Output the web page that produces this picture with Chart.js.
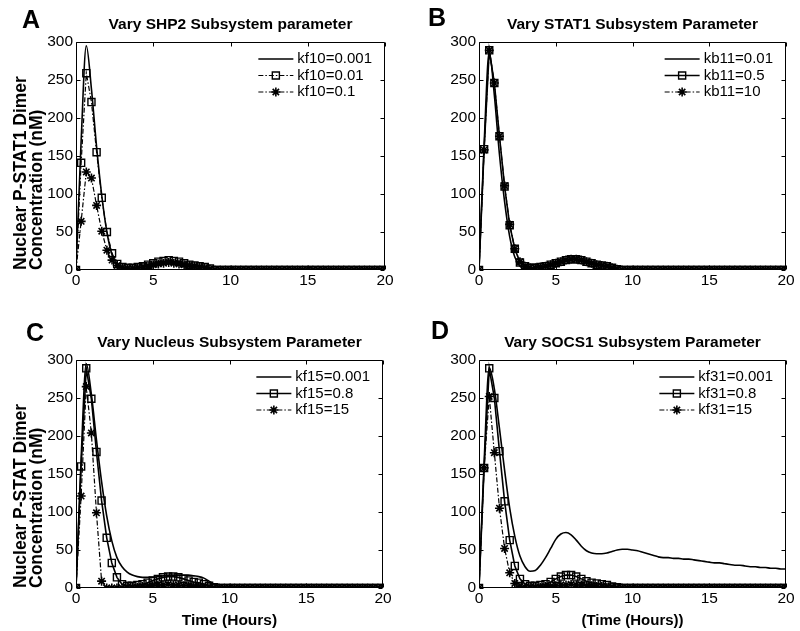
<!DOCTYPE html>
<html>
<head>
<meta charset="utf-8">
<script src="https://cdn.jsdelivr.net/npm/chart.js@4"></script>
<style>
  body { margin: 0; background: #fff; }
  #wrap { position: relative; width: 800px; height: 631px; }
  canvas { position: absolute; }
</style>
</head>
<body>
<div id="wrap">
  <canvas id="chartA" width="400" height="300" style="left:0;top:0"></canvas>
  <canvas id="chartB" width="400" height="300" style="left:400px;top:0"></canvas>
  <canvas id="chartC" width="400" height="331" style="left:0;top:300px"></canvas>
  <canvas id="chartD" width="400" height="331" style="left:400px;top:300px"></canvas>
</div>
<script>
// time grid (hours)
const times = [
  0, 0.333, 0.667, 1, 1.333, 1.667, 2, 2.333, 2.667, 3,
  3.333, 3.667, 4, 4.333, 4.667, 5, 5.333, 5.667, 6, 6.333,
  6.667, 7, 7.333, 7.667, 8, 8.333, 8.667, 9, 9.333, 9.667,
  10, 10.333, 10.667, 11, 11.333, 11.667, 12, 12.333, 12.667, 13,
  13.333, 13.667, 14, 14.333, 14.667, 15, 15.333, 15.667, 16, 16.333,
  16.667, 17, 17.333, 17.667, 18, 18.333, 18.667, 19, 19.333, 19.667,
  20
];
const xTicks = [0, 5, 10, 15, 20];
const yTicks = [0, 50, 100, 150, 200, 250, 300];

// A: SHP2
const labelsA = ['kf10=0.001', 'kf10=0.01', 'kf10=0.1'];
const kf10_0001 = [
  0, 170, 295, 238, 162, 98, 50, 20, 7, 3,
  2, 2, 3, 4, 6, 8, 10, 11, 12, 11,
  10, 8, 7, 6, 5, 3, 1, 0, 0, 0,
  0, 0, 0, 0, 0, 0, 0, 0, 0, 0,
  0, 0, 0, 0, 0, 0, 0, 0, 0, 0,
  0, 0, 0, 0, 0, 0, 0, 0, 0, 0,
  0
];
const kf10_001 = [
  0, 141, 259, 221, 155, 95, 50, 22, 8, 4,
  3, 3, 4, 5, 7, 9, 11, 12, 13, 12,
  11, 9, 7, 6, 5, 4, 2, 0, 0, 0,
  0, 0, 0, 0, 0, 0, 0, 0, 0, 0,
  0, 0, 0, 0, 0, 0, 0, 0, 0, 0,
  0, 0, 0, 0, 0, 0, 0, 0, 0, 0,
  0
];
const kf10_01 = [
  0, 64, 129, 121, 85, 51, 26, 13, 6, 3,
  2, 2, 3, 4, 5, 7, 8, 9, 10, 9,
  8, 7, 6, 5, 4, 3, 1, 0, 0, 0,
  0, 0, 0, 0, 0, 0, 0, 0, 0, 0,
  0, 0, 0, 0, 0, 0, 0, 0, 0, 0,
  0, 0, 0, 0, 0, 0, 0, 0, 0, 0,
  0
];

// B: STAT1
const labelsB = ['kb11=0.01', 'kb11=0.5', 'kb11=10'];
const kb11_001 = [
  0, 165, 287, 230, 152, 90, 44, 17, 5, 2,
  2, 3, 4, 5, 7, 9, 11, 13, 14, 14,
  13, 11, 9, 7, 6, 5, 3, 1, 0, 0,
  0, 0, 0, 0, 0, 0, 0, 0, 0, 0,
  0, 0, 0, 0, 0, 0, 0, 0, 0, 0,
  0, 0, 0, 0, 0, 0, 0, 0, 0, 0,
  0
];
const kb11_05 = [
  0, 159, 289, 246, 176, 110, 59, 28, 10, 5,
  3, 3, 4, 5, 7, 9, 11, 13, 14, 14,
  13, 11, 9, 7, 6, 5, 3, 1, 0, 0,
  0, 0, 0, 0, 0, 0, 0, 0, 0, 0,
  0, 0, 0, 0, 0, 0, 0, 0, 0, 0,
  0, 0, 0, 0, 0, 0, 0, 0, 0, 0,
  0
];
const kb11_10 = [
  0, 158, 289, 246, 176, 111, 60, 28, 11, 5,
  3, 3, 4, 5, 7, 9, 11, 13, 14, 14,
  13, 11, 9, 7, 6, 5, 3, 1, 0, 0,
  0, 0, 0, 0, 0, 0, 0, 0, 0, 0,
  0, 0, 0, 0, 0, 0, 0, 0, 0, 0,
  0, 0, 0, 0, 0, 0, 0, 0, 0, 0,
  0
];

// C: Nucleus
const labelsC = ['kf15=0.001', 'kf15=0.8', 'kf15=15'];
const kf15_0001 = [
  0, 170, 295, 255, 195, 140, 95, 62, 40, 28,
  21, 17, 15, 14, 14, 14, 15, 16, 17, 17,
  17, 17, 17, 16, 15, 13, 9, 5, 2, 0,
  0, 0, 0, 0, 0, 0, 0, 0, 0, 0,
  0, 0, 0, 0, 0, 0, 0, 0, 0, 0,
  0, 0, 0, 0, 0, 0, 0, 0, 0, 0,
  0
];
const kf15_08 = [
  0, 160, 289, 249, 179, 115, 66, 33, 14, 5,
  3, 3, 4, 5, 7, 10, 12, 14, 15, 15,
  14, 12, 10, 8, 7, 5, 3, 1, 0, 0,
  0, 0, 0, 0, 0, 0, 0, 0, 0, 0,
  0, 0, 0, 0, 0, 0, 0, 0, 0, 0,
  0, 0, 0, 0, 0, 0, 0, 0, 0, 0,
  0
];
const kf15_15 = [
  0, 121, 265, 204, 99, 9, 0, 0, 0, 0,
  1, 1, 1, 2, 2, 3, 4, 4, 5, 4,
  4, 3, 3, 2, 2, 1, 1, 0, 0, 0,
  0, 0, 0, 0, 0, 0, 0, 0, 0, 0,
  0, 0, 0, 0, 0, 0, 0, 0, 0, 0,
  0, 0, 0, 0, 0, 0, 0, 0, 0, 0,
  0
];

// D: SOCS1
const labelsD = ['kf31=0.001', 'kf31=0.8', 'kf31=15'];
const kf31_0001 = [
  0, 165, 290, 262, 210, 155, 105, 68, 42, 28,
  22, 23, 30, 40, 52, 64, 71, 73, 70, 63,
  55, 49, 46, 45, 45, 46, 48, 50, 51, 51,
  50, 49, 47, 45, 43, 41, 40, 40, 39, 39,
  38, 38, 37, 36, 35, 34, 33, 33, 32, 31,
  30, 30, 29, 28, 28, 27, 27, 26, 26, 25,
  25
];
const kf31_08 = [
  0, 158, 289, 250, 180, 114, 63, 29, 12, 5,
  3, 3, 4, 5, 8, 12, 15, 17, 17, 15,
  12, 9, 7, 6, 5, 4, 2, 1, 0, 0,
  0, 0, 0, 0, 0, 0, 0, 0, 0, 0,
  0, 0, 0, 0, 0, 0, 0, 0, 0, 0,
  0, 0, 0, 0, 0, 0, 0, 0, 0, 0,
  0
];
const kf31_15 = [
  0, 158, 252, 178, 105, 52, 20, 6, 2, 1,
  1, 1, 1, 2, 2, 3, 4, 4, 5, 4,
  4, 3, 3, 2, 2, 1, 1, 0, 0, 0,
  0, 0, 0, 0, 0, 0, 0, 0, 0, 0,
  0, 0, 0, 0, 0, 0, 0, 0, 0, 0,
  0, 0, 0, 0, 0, 0, 0, 0, 0, 0,
  0
];

const FONT = "'Liberation Sans', Arial, Helvetica, sans-serif";
Chart.defaults.font.family = FONT;
Chart.defaults.color = '#000';

const dashDot = [5, 2, 1.5, 2];

const toPoints = vals => vals.map((v, i) => ({x: times[i], y: v}));

// MATLAB-like box, inward ticks, title, panel letter and legend
const matlabFrame = {
  id: 'matlabFrame',
  afterDraw(chart, args, opts) {
    const {ctx, chartArea: a, scales} = chart;
    const L = Math.round(a.left) + 0.5, R = Math.round(a.right) - 0.5;
    const T = Math.round(a.top) + 0.5, B = Math.round(a.bottom) - 0.5;
    ctx.save();
    ctx.strokeStyle = '#000';
    ctx.lineWidth = 1;
    ctx.setLineDash([]);
    ctx.beginPath();
    ctx.rect(L, T, R - L, B - T);
    xTicks.forEach(v => {
      const px = Math.round(scales.x.getPixelForValue(v)) + 0.5;
      ctx.moveTo(px, B); ctx.lineTo(px, B - 4);
      ctx.moveTo(px, T); ctx.lineTo(px, T + 4);
    });
    yTicks.forEach(v => {
      const py = Math.round(scales.y.getPixelForValue(v)) + 0.5;
      ctx.moveTo(L, py); ctx.lineTo(L + 4, py);
      ctx.moveTo(R, py); ctx.lineTo(R - 4, py);
    });
    ctx.stroke();

    // title
    ctx.fillStyle = '#000';
    ctx.font = 'bold 15.5px ' + FONT;
    ctx.textAlign = 'center';
    ctx.textBaseline = 'middle';
    ctx.fillText(opts.title, (a.left + a.right) / 2, a.top - 17.5);

    // panel letter
    ctx.font = 'bold 25px ' + FONT;
    ctx.textAlign = 'left';
    ctx.textBaseline = 'alphabetic';
    ctx.fillText(opts.letter, opts.letterX, opts.letterY);

    // legend
    ctx.font = '15px ' + FONT;
    ctx.textBaseline = 'middle';
    const ds = chart.data.datasets;
    const maxW = Math.max(...ds.map(d => ctx.measureText(d.label).width));
    const textX = a.right - 13 - maxW;
    ds.forEach((d, k) => {
      const y = a.top + 17 + k * 16.5;
      ctx.save();
      ctx.lineWidth = d.borderWidth;
      ctx.setLineDash(d.borderDash || []);
      ctx.beginPath();
      ctx.moveTo(textX - 39, y);
      ctx.lineTo(textX - 4, y);
      ctx.stroke();
      ctx.setLineDash([]);
      if (d.pointRadius > 0) {
        ctx.lineWidth = d.pointBorderWidth;
        ctx.fillStyle = 'rgba(0,0,0,0)';
        Chart.helpers.drawPoint(ctx, {pointStyle: d.pointStyle, radius: d.pointRadius, borderWidth: d.pointBorderWidth, rotation: 0}, textX - 21.5, y);
      }
      ctx.restore();
      ctx.fillText(d.label, textX, y);
    });
    ctx.restore();
  }
};

function makeChart(id, cfg) {
  const datasets = [
    {
      label: cfg.labels[0], data: toPoints(cfg.series[0]),
      borderColor: '#000', borderWidth: 1.6, borderDash: [],
      pointRadius: 0, cubicInterpolationMode: 'monotone', order: 3
    },
    {
      label: cfg.labels[1], data: toPoints(cfg.series[1]),
      borderColor: '#000', borderWidth: cfg.squareDash.length ? 1.2 : 1.6, borderDash: cfg.squareDash,
      pointStyle: 'rect', pointRadius: 5, pointBorderWidth: 1.4,
      pointBorderColor: '#000', pointBackgroundColor: 'rgba(0,0,0,0)', order: 2
    },
    {
      label: cfg.labels[2], data: toPoints(cfg.series[2]),
      borderColor: '#000', borderWidth: 1.2, borderDash: dashDot,
      pointStyle: 'star', pointRadius: 4.5, pointBorderWidth: 1.6,
      pointBorderColor: '#000', pointBackgroundColor: 'rgba(0,0,0,0)', order: 1
    }
  ];

  new Chart(document.getElementById(id), {
    type: 'line',
    data: {datasets: datasets},
    plugins: [matlabFrame],
    options: {
      responsive: false,
      animation: false,
      events: [],
      layout: {padding: {left: 0, right: cfg.padRight, top: cfg.padTop, bottom: 0}},
      scales: {
        x: {
          type: 'linear', min: 0, max: 20,
          afterFit: s => { s.height = cfg.xHeight; },
          grid: {display: false, drawTicks: false},
          border: {display: false},
          ticks: {stepSize: 5, padding: 1, font: {size: 15.5}, maxRotation: 0},
          title: {
            display: !!cfg.xTitle, text: cfg.xTitle || '',
            font: {size: cfg.xTitleSize || 15.5, weight: 'bold'},
            padding: {top: 0, bottom: 1}
          }
        },
        y: {
          min: 0, max: 300,
          afterFit: s => { s.width = cfg.yWidth; },
          grid: {display: false, drawTicks: false},
          border: {display: false},
          ticks: {stepSize: 50, padding: 3, font: {size: 15.5}},
          title: {
            display: !!cfg.yTitle, text: cfg.yTitle || '',
            align: 'start',
            font: {size: 17.5, weight: 'bold', lineHeight: '16px'},
            padding: {top: 13, bottom: 0}
          }
        }
      },
      plugins: {
        legend: {display: false},
        tooltip: {enabled: false},
        matlabFrame: {title: cfg.title, letter: cfg.letter, letterX: cfg.letterX, letterY: cfg.letterY}
      }
    }
  });
}

makeChart('chartA', {
  labels: labelsA, series: [kf10_0001, kf10_001, kf10_01], squareDash: dashDot,
  title: 'Vary SHP2 Subsystem parameter', letter: 'A', letterX: 22, letterY: 28,
  padRight: 15, padTop: 42, xHeight: 30, yWidth: 76,
  yTitle: ['Nuclear P-STAT1 Dimer', 'Concentration (nM)']
});
makeChart('chartB', {
  labels: labelsB, series: [kb11_001, kb11_05, kb11_10], squareDash: [],
  title: 'Vary STAT1 Subsystem Parameter', letter: 'B', letterX: 28, letterY: 26,
  padRight: 14, padTop: 42, xHeight: 30, yWidth: 79
});
makeChart('chartC', {
  labels: labelsC, series: [kf15_0001, kf15_08, kf15_15], squareDash: [],
  title: 'Vary Nucleus Subsystem Parameter', letter: 'C', letterX: 26, letterY: 41,
  padRight: 17, padTop: 60, xHeight: 43, yWidth: 76,
  yTitle: ['Nuclear P-STAT Dimer', 'Concentration (nM)'], xTitle: 'Time (Hours)'
});
makeChart('chartD', {
  labels: labelsD, series: [kf31_0001, kf31_08, kf31_15], squareDash: [],
  title: 'Vary SOCS1 Subsystem Parameter', letter: 'D', letterX: 31, letterY: 39,
  padRight: 14, padTop: 60, xHeight: 43, yWidth: 79,
  xTitle: '(Time (Hours))', xTitleSize: 15
});
</script>
</body>
</html>
